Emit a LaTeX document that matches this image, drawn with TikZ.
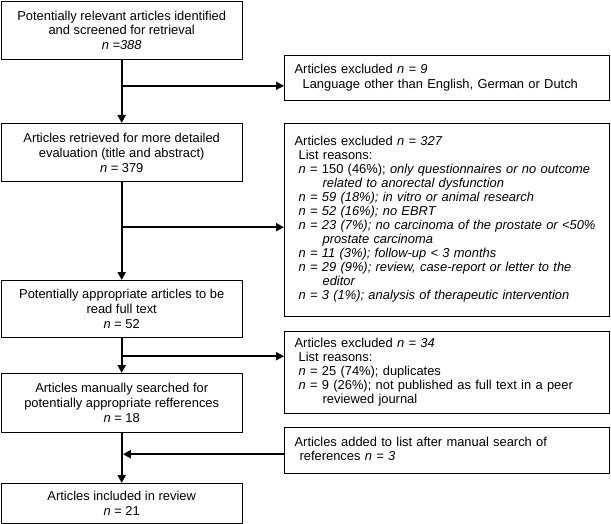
\documentclass[tikz,border=0pt]{standalone}
\usepackage{fontspec}
\setmainfont{Liberation Sans}
\usetikzlibrary{arrows.meta}
\newcommand{\ind}[1]{\hspace*{#1}}
\tikzset{
  lbox/.style={draw, line width=1.2pt, minimum width=241pt, align=center, inner sep=0pt,
    font=\fontsize{12.9}{14.8}\selectfont, anchor=north west},
  rbox/.style={draw, line width=1.2pt, minimum width=325pt, text width=305pt, align=left,
    inner xsep=10pt, inner ysep=0pt, anchor=north west, font=\fontsize{12.9}{14}\selectfont},
  conn/.style={line width=2.4pt},
  arr/.style={conn, -{Triangle[length=8pt,width=8pt]}}
}
\begin{document}
\begin{tikzpicture}[x=1pt,y=-1pt]
\useasboundingbox (0,0) rectangle (611,524);
% left column
\node[lbox, minimum height=58pt] (b1) at (0.6,0.6) {Potentially relevant articles identified\\and screened for retrieval\\\textit{n =388}};
\node[lbox, minimum height=58pt] (b2) at (0.6,123) {Articles retrieved for more detailed\\evaluation (title and abstract)\\\textit{n} = 379};
\node[lbox, minimum height=57pt] (b3) at (0.6,280) {Potentially appropriate articles to be\\read full text\\\textit{n} = 52};
\node[lbox, minimum height=59pt] (b4) at (0.6,373) {Articles manually searched for\\potentially appropriate refferences\\\textit{n} = 18};
\node[lbox, minimum height=40pt] (b5) at (0.6,483) {Articles included in review\\\textit{n} = 21};
% right column
\node[rbox, minimum height=45pt] (ra) at (284,55) {\begin{tabular}{@{}l@{}}
Articles excluded \textit{n = 9}\\[1pt]
\ind{8pt}Language other than English, German or Dutch
\end{tabular}};
\node[rbox, minimum height=193pt] (rb) at (284,123) {\begin{tabular}{@{}l@{}}
Articles excluded \textit{n = 327}\\
\ind{4pt}List reasons:\\
\ind{4pt}\textit{n} = 150 (46\%); \textit{only questionnaires or no outcome}\\
\ind{28pt}\textit{related to anorectal dysfunction}\\
\ind{4pt}\textit{n = 59 (18\%); in vitro or animal research}\\
\ind{4pt}\textit{n = 52 (16\%); no EBRT}\\
\ind{4pt}\textit{n = 23 (7\%); no carcinoma of the prostate or <50\%}\\
\ind{28pt}\textit{prostate carcinoma}\\
\ind{4pt}\textit{n = 11 (3\%); follow-up < 3 months}\\
\ind{4pt}\textit{n = 29 (9\%); review, case-report or letter to the}\\
\ind{28pt}\textit{editor}\\
\ind{4pt}\textit{n = 3 (1\%); analysis of therapeutic intervention}
\end{tabular}};
\node[rbox, minimum height=82pt] (rc) at (284,331) {\begin{tabular}{@{}l@{}}
Articles excluded \textit{n = 34}\\
\ind{4pt}List reasons:\\
\ind{4pt}\textit{n} = 25 (74\%); duplicates\\
\ind{4pt}\textit{n} = 9 (26\%); not published as full text in a peer\\
\ind{28pt}reviewed journal
\end{tabular}};
\node[rbox, minimum height=46pt] (rd) at (284,427) {\begin{tabular}{@{}l@{}}
Articles added to list after manual search of\\
\ind{5pt}references \textit{n = 3}
\end{tabular}};
% connectors
\draw[arr] (b1.south) -- (b2.north);
\draw[arr] (b2.south) -- (b3.north);
\draw[arr] (b3.south) -- (b4.north);
\draw[arr] (b4.south) -- (b5.north);
\path (b1.south) ++(0,26) coordinate (j1);
\path (b2.south) ++(0,45) coordinate (j2);
\path (b3.south) ++(0,18) coordinate (j3);
\path (b4.south) ++(0,21) coordinate (j4);
\draw[arr] (j1) -- (ra.west |- j1);
\draw[arr] (j2) -- (rb.west |- j2);
\draw[arr] (j3) -- (rc.west |- j3);
\draw[arr, shorten >=1.2pt] (rd.west |- j4) -- (j4);
\end{tikzpicture}
\end{document}
